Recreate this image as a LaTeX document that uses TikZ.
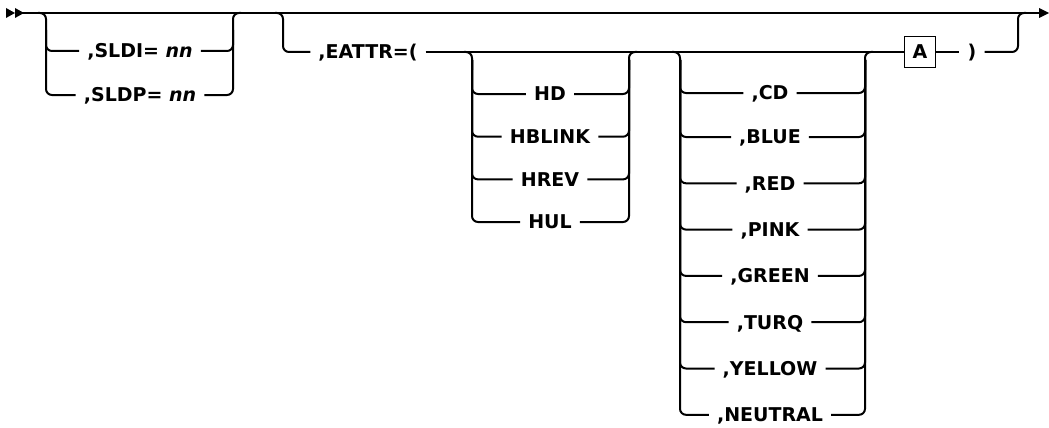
\documentclass[tikz,border=0pt]{standalone}
\usepackage{fontspec}
\setmainfont{DejaVu Sans}
\newfontfamily\railfont{DejaVu Sans}
\tikzset{
rail/.style={line width=2pt,rounded corners=6pt},
tip/.style={fill=black},
kw/.style={font=\railfont\bfseries\fontsize{19}{22}\selectfont,inner xsep=8pt,inner ysep=0pt,
text height=13.9pt,text depth=0pt},
refbox/.style={draw,line width=1.5pt,minimum width=31pt,minimum height=31pt,inner sep=0pt,
font=\railfont\bfseries\fontsize{19}{22}\selectfont}
}

\begin{document}
\begin{tikzpicture}[x=1pt,y=-1pt]
\useasboundingbox (0,0) rectangle (1049,428);
\coordinate (start) at (22,13);
\coordinate (stop) at (1040,13);
\draw[rail] (start) -- (stop);
\fill[tip] (6,8) -- (15,13) -- (6,18) -- cycle;
\fill[tip] (15,8) -- (24,13) -- (15,18) -- cycle;
\fill[tip] (1039,8) -- (1049,13) -- (1039,18) -- cycle;

% first choice
\node[kw] (sldi) at (140,51) {,SLDI= \textit{nn}};
\node[kw] (sldp) at (140,95) {,SLDP= \textit{nn}};
\draw[rail] (38,13) -| (46,95) -- (sldp.west);
\draw[rail] (46,30) |- (sldi.west);
\draw[rail] (sldp.east) -| (233,13) -- (241,13);
\draw[rail] (sldi.east) -| (233,30);

% EATTR branch
\node[kw] (eattr) at (368,52) {,EATTR=(};
\node[refbox] (fragA) at (920,52) {A};
\node[kw] (rpar) at (972,52) {)};
\draw[rail] (275,13) -| (283,52) -- (eattr.west);
\draw[rail] (eattr.east) -- (fragA.west);
\draw[rail] (fragA.east) -- (rpar.west);
\draw[rail] (rpar.east) -| (1018,13) -- (1026,13);

% highlight
\foreach \lbl/\y in {HD/94,HBLINK/136.7,HREV/179.4,HUL/222}{
  \node[kw] (h\lbl) at (550,\y) {\lbl};
  \draw[rail] (472,60) |- (h\lbl.west);
  \draw[rail] (h\lbl.east) -| (629,60);
}
\draw[rail] (464,52) -| (472,70);
\draw[rail] (629,70) |- (637,52);

% colour
\foreach \lbl/\y in {CD/93,BLUE/137,RED/183.3,PINK/229.6,GREEN/275.9,TURQ/322.2,YELLOW/368.5,NEUTRAL/414.8}{
  \node[kw] (c\lbl) at (770,\y) {,\lbl};
  \draw[rail] (680,60) |- (c\lbl.west);
  \draw[rail] (c\lbl.east) -| (865,60);
}
\draw[rail] (672,52) -| (680,70);
\draw[rail] (865,70) |- (873,52);
\end{tikzpicture}
\end{document}
